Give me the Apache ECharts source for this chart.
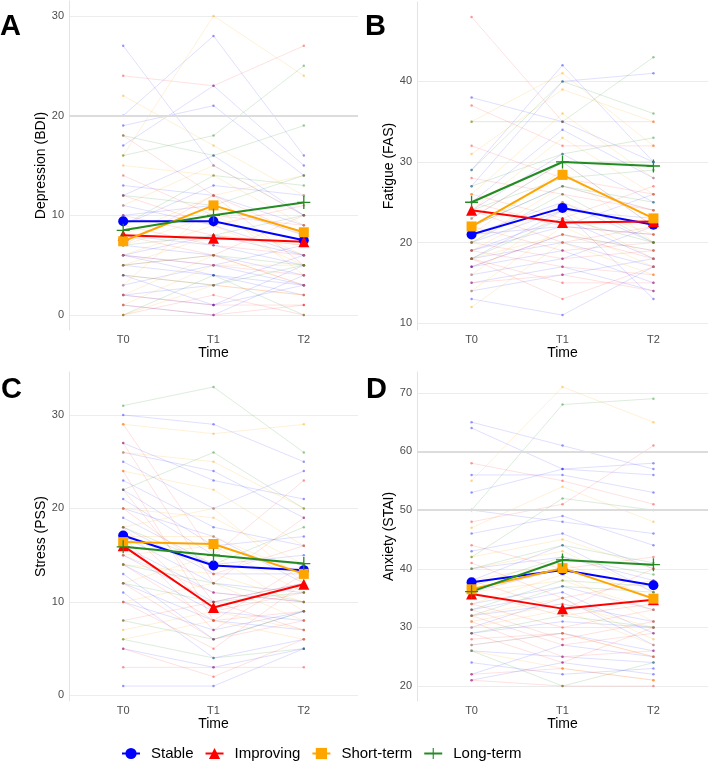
<!DOCTYPE html>
<html>
<head>
<meta charset="utf-8">
<script src="https://cdn.jsdelivr.net/npm/echarts@6/dist/echarts.min.js"></script>
<style>
  html, body { margin: 0; padding: 0; background: #fff; }
  #chart { width: 709px; height: 763px; }
</style>
</head>
<body>
<div id="chart"></div>
<script>
const timeLabels = ['T0', 'T1', 'T2'];
const groups = ['Stable', 'Improving', 'Short-term', 'Long-term'];

// group means (bold lines), order = groups
const depMeans = [[9.4, 9.4, 7.5], [8.0, 7.7, 7.35], [7.4, 11.0, 8.3], [8.5, 10.0, 11.3]];
const fatMeans = [[21.0, 24.3, 22.2], [24.0, 22.5, 22.6], [22.0, 28.4, 23.0], [25.0, 30.0, 29.5]];
const strMeans = [[17.1, 13.9, 13.4], [16.0, 9.4, 11.9], [16.4, 16.2, 13.0], [15.9, 15.0, 14.1]];
const anxMeans = [[37.7, 39.8, 37.2], [35.7, 33.2, 34.7], [36.5, 40.1, 34.9], [36.1, 41.5, 40.7]];

// individual trajectories (T0, T1, T2)
const depStable = [[27, 15, 10], [20, 28, 16], [19, 21, 14], [17, 23, 15], [13, 12, 9], [12, 16, 10], [11, 9, 6], [10, 11, 8], [9, 13, 12], [8, 7, 5], [7, 6, 4], [6, 8, 6], [6, 5, 3], [5, 4, 2], [4, 1, 5], [3, 5, 7], [2, 3, 6], [1, 0, 4], [6, 4, 3], [2, 1, 3]];
const depImproving = [[24, 23, 27], [18, 12, 8], [14, 10, 9], [12, 9, 11], [10, 8, 7], [9, 7, 6], [8, 6, 10], [7, 12, 5], [6, 5, 4], [5, 6, 3], [4, 3, 2], [2, 1, 1], [1, 0, 1], [0, 2, 0]];
const depShort = [[22, 17, 12], [16, 30, 24], [15, 14, 9], [11, 15, 10], [8, 12, 14], [7, 10, 6], [6, 9, 5], [5, 8, 7], [3, 11, 4], [2, 6, 3], [0, 3, 2], [1, 5, 5]];
const depLong = [[18, 16, 19], [16, 18, 25], [12, 11, 14], [9, 14, 13], [7, 8, 10], [5, 6, 5], [4, 3, 5], [0, 4, 0]];

const fatStable = [[38, 35, 30], [29, 42, 30], [27, 40, 41], [25, 34, 28], [24, 31, 25], [23, 30, 22], [22, 27, 24], [21, 25, 20], [20, 24, 23], [19, 23, 18], [19, 22, 21], [18, 20, 17], [17, 21, 19], [17, 19, 15], [16, 18, 22], [15, 17, 14], [14, 16, 18], [13, 11, 17], [18, 24, 13], [21, 22, 26]];
const fatImproving = [[48, 35, 35], [37, 32, 32], [32, 28, 26], [28, 26, 24], [26, 23, 27], [25, 22, 21], [24, 20, 22], [22, 19, 20], [20, 18, 19], [19, 17, 16], [18, 15, 15], [18, 13, 17], [17, 21, 18], [15, 16, 14]];
const fatShort = [[35, 41, 32], [31, 39, 35], [26, 36, 28], [24, 33, 26], [23, 30, 22], [21, 29, 20], [20, 27, 24], [19, 25, 21], [18, 21, 19], [16, 24, 18], [14, 22, 17], [12, 20, 16]];
const fatLong = [[35, 35, 43], [29, 40, 36], [27, 31, 33], [25, 30, 30], [24, 28, 29], [22, 27, 25], [20, 26, 20], [18, 23, 20]];

const strStable = [[30, 29, 25], [27, 23, 21], [26, 24, 19], [25, 20, 24], [23, 18, 16], [22, 16, 17], [21, 15, 14], [20, 17, 12], [19, 14, 15], [18, 13, 13], [17, 12, 11], [16, 11, 10], [15, 10, 12], [14, 9, 8], [13, 6, 9], [12, 8, 7], [11, 4, 6], [10, 7, 9], [5, 3, 5], [1, 1, 5]];
const strImproving = [[29, 15, 23], [27, 12, 19], [24, 8, 14], [22, 10, 12], [20, 13, 16], [18, 9, 11], [17, 7, 13], [15, 11, 10], [14, 8, 9], [12, 6, 8], [10, 5, 12], [8, 10, 7], [5, 2, 6], [3, 3, 3]];
const strShort = [[29, 28, 29], [26, 25, 20], [24, 22, 16], [20, 19, 14], [18, 20, 12], [17, 17, 13], [15, 16, 11], [14, 13, 10], [12, 15, 9], [10, 12, 8], [7, 9, 7], [6, 8, 6]];
const strLong = [[31, 33, 26], [22, 26, 20], [18, 14, 18], [16, 15, 14], [14, 12, 10], [12, 10, 11], [8, 6, 9], [6, 4, 5]];

const anxStable = [[65, 61, 57], [64, 57, 58], [56, 56, 53], [53, 57, 56], [50, 48, 46], [46, 49, 44], [43, 46, 40], [40, 42, 38], [38, 44, 36], [36, 40, 35], [34, 37, 33], [33, 36, 29], [32, 34, 31], [30, 35, 27], [29, 31, 30], [27, 29, 26], [26, 25, 24], [24, 22, 23], [22, 27, 25], [21, 24, 22]];
const anxImproving = [[58, 55, 51], [48, 51, 61], [44, 40, 42], [41, 35, 38], [38, 33, 40], [36, 32, 34], [34, 30, 33], [33, 28, 31], [32, 27, 29], [31, 25, 26], [29, 24, 30], [28, 29, 25], [22, 23, 21], [21, 20, 20]];
const anxShort = [[55, 71, 65], [47, 54, 48], [42, 45, 40], [40, 43, 36], [38, 41, 35], [36, 38, 33], [34, 39, 31], [32, 35, 28], [31, 34, 30], [30, 33, 27], [27, 29, 25], [26, 23, 21]];
const anxLong = [[50, 68, 69], [42, 52, 50], [40, 44, 41], [37, 42, 39], [33, 38, 37], [32, 37, 36], [29, 32, 30], [26, 20, 24]];

const yTicksDep = [0, 10, 20, 30];
const yTicksFat = [10, 20, 30, 40];
const yTicksStr = [0, 10, 20, 30];
const yTicksAnx = [20, 30, 40, 50, 60, 70];
const refLinesDep = [20];
const refLinesAnx = [50, 60];

const colors = ['#0000ff', '#ff0000', '#ffa500', '#228b22'];
const fadedLine = ['rgba(0,0,255,0.16)', 'rgba(255,0,0,0.15)', 'rgba(255,165,0,0.2)', 'rgba(34,139,34,0.2)'];
const fadedDot = ['rgba(0,0,255,0.4)', 'rgba(255,0,0,0.4)', 'rgba(255,165,0,0.45)', 'rgba(34,139,34,0.45)'];
const plus = 'path://M9,0H11V9H20V11H11V20H9V11H0V9H9Z';
const symbols = ['circle', 'triangle', 'rect', plus];
const symbolSizes = [10, 11, 10, 13];
const font = 'Liberation Sans, Arial, sans-serif';

const panels = [
  {label: 'A', name: 'Depression (BDI)', min: -1.5, max: 31.5, ticks: yTicksDep, refs: refLinesDep,
    ind: [depStable, depImproving, depShort, depLong], means: depMeans,
    grid: {left: 69, top: 1, width: 289, height: 329}, lx: 0, ly: 12},
  {label: 'B', name: 'Fatigue (FAS)', min: 9.15, max: 49.85, ticks: yTicksFat, refs: [],
    ind: [fatStable, fatImproving, fatShort, fatLong], means: fatMeans,
    grid: {left: 417, top: 2, width: 291, height: 328}, lx: 365, ly: 12},
  {label: 'C', name: 'Stress (PSS)', min: -0.6, max: 34.6, ticks: yTicksStr, refs: [],
    ind: [strStable, strImproving, strShort, strLong], means: strMeans,
    grid: {left: 69, top: 372, width: 289, height: 329}, lx: 1, ly: 375},
  {label: 'D', name: 'Anxiety (STAI)', min: 17.45, max: 73.55, ticks: yTicksAnx, refs: refLinesAnx,
    ind: [anxStable, anxImproving, anxShort, anxLong], means: anxMeans,
    grid: {left: 417, top: 372, width: 291, height: 329}, lx: 366, ly: 375}
]

const grid = [], xAxis = [], yAxis = [], series = [], title = []

panels.forEach((p, pi) => {
  grid.push(p.grid)
  title.push({text: p.label, left: p.lx, top: p.ly, padding: 0,
    textStyle: {fontSize: 29, fontWeight: 'bold', color: '#000', fontFamily: font}})
  xAxis.push({
    type: 'value', gridIndex: pi, min: 0.4, max: 3.6,
    name: 'Time', nameLocation: 'middle', nameGap: 14,
    nameTextStyle: {fontSize: 14, color: '#000', fontFamily: font},
    axisLine: {show: false}, axisTick: {show: false}, splitLine: {show: false},
    axisLabel: {customValues: [1, 2, 3], formatter: v => timeLabels[Math.round(v) - 1],
      fontSize: 11, color: '#4d4d4d', margin: 4, fontFamily: font}
  })
  yAxis.push({
    type: 'value', gridIndex: pi, min: p.min, max: p.max,
    name: p.name, nameLocation: 'middle', nameGap: 19,
    nameTextStyle: {fontSize: 14, color: '#000', fontFamily: font},
    axisLine: {show: true, lineStyle: {color: '#e3e3e3'}},
    axisTick: {show: false, customValues: p.ticks},
    axisLabel: {customValues: p.ticks, fontSize: 11, color: '#4d4d4d', margin: 5, fontFamily: font},
    splitLine: {show: true, lineStyle: {color: '#ececec', width: 1}}
  })

  p.ind.forEach((list, gi) => {
    list.forEach((vals, k) => {
      series.push({
        type: 'line', name: groups[gi] + ' ' + p.label + k, xAxisIndex: pi, yAxisIndex: pi,
        data: vals.map((v, i) => [i + 1, v]),
        symbol: 'circle', symbolSize: 2.5, silent: true, z: 2,
        lineStyle: {color: fadedLine[gi], width: 0.8},
        itemStyle: {color: fadedDot[gi]}
      })
    })
  })

  if (p.refs.length) {
    series.push({
      type: 'line', name: 'ref' + p.label, xAxisIndex: pi, yAxisIndex: pi, data: [], z: 1,
      markLine: {silent: true, symbol: 'none', label: {show: false},
        lineStyle: {color: '#dcdcdc', width: 2, type: 'solid', opacity: 1},
        data: p.refs.map(r => ({yAxis: r}))}
    })
  }

  p.means.forEach((vals, gi) => {
    series.push({
      type: 'line', name: groups[gi], xAxisIndex: pi, yAxisIndex: pi,
      data: vals.map((v, i) => [i + 1, v]),
      symbol: symbols[gi], symbolSize: symbolSizes[gi], z: 5,
      lineStyle: {color: colors[gi], width: 2},
      itemStyle: {color: colors[gi]}
    })
  })
})

const chart = echarts.init(document.getElementById('chart'))
chart.setOption({
  animation: false,
  backgroundColor: '#fff',
  title,
  grid,
  xAxis,
  yAxis,
  legend: {
    data: groups, left: 116, top: 741, itemWidth: 18, itemHeight: 14, itemGap: 11,
    selectedMode: false,
    textStyle: {fontSize: 15, color: '#000', fontFamily: font, padding: [0, 0, 0, 6]}
  },
  series
})
</script>
</body>
</html>
